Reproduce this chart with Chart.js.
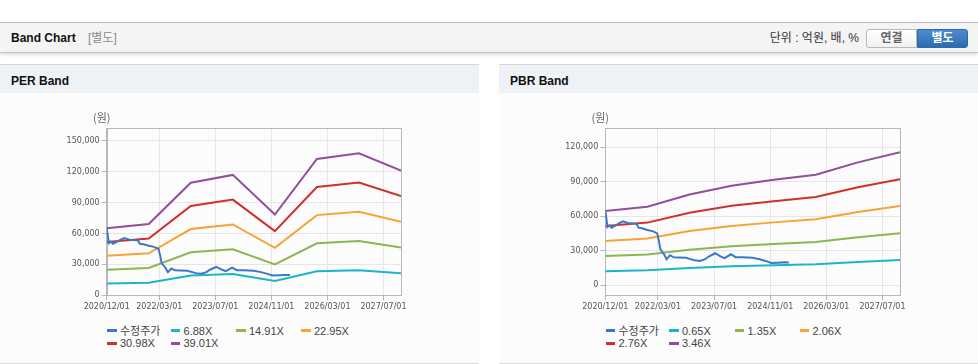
<!DOCTYPE html>
<html><head><meta charset="utf-8">
<script src="https://cdn.jsdelivr.net/npm/chart.js@4.4.1/dist/chart.umd.min.js"></script>
<style>
html,body{margin:0;padding:0;}
body{width:978px;height:364px;background:#fff;position:relative;overflow:hidden;font-family:"Liberation Sans",Arial,"Noto Sans CJK KR",sans-serif;}
.topbar{position:absolute;left:0;top:22px;width:978px;height:29px;background:#f4f4f4;border-top:1px solid #bdbdbd;border-bottom:1px solid #c4c4c4;box-shadow:0 2px 3px rgba(0,0,0,0.13);box-sizing:content-box;}
.ttl{position:absolute;left:11px;top:8px;font-weight:bold;font-size:12px;color:#111;line-height:14px;}
.sub{position:absolute;left:88px;top:8px;font-size:12px;color:#8a8a8a;line-height:14px;}
.unit{position:absolute;right:119px;top:8px;font-size:12px;color:#333;line-height:14px;white-space:nowrap;}
.btn{position:absolute;top:6px;height:19px;width:51px;box-sizing:border-box;font-weight:bold;font-size:12px;line-height:17px;text-align:center;}
.b1{left:866px;border:1px solid #b8b8b8;border-radius:3px 0 0 3px;background:linear-gradient(#ffffff,#f1f1f1);color:#666;}
.b2{left:917px;border:1px solid #2f69a6;border-radius:0 3px 3px 0;background:linear-gradient(#4b8dd2,#2d6bb1);color:#fff;}
.panel{position:absolute;top:64px;width:479px;height:298px;background:#fcfcfc;border-top:1px solid #d6d6d6;border-bottom:1px solid #dadada;}
.phead{position:absolute;left:0;top:0;right:0;height:28px;background:#eef2f7;}
.phead span{position:absolute;left:11px;top:9px;font-weight:bold;font-size:12px;color:#111;line-height:14px;}
canvas{position:absolute;}
.legend{position:absolute;display:grid;grid-template-columns:63.5px 65.5px 65px 65px;font-family:"Liberation Sans",Arial,"Noto Sans CJK KR",sans-serif;font-size:11px;color:#444;line-height:12.5px;}
.li{display:flex;align-items:center;white-space:nowrap;}
.mk{display:inline-block;width:9.5px;height:3px;margin-right:3.5px;}
</style></head>
<body>
<div class="topbar">
  <div class="ttl">Band Chart</div>
  <div class="sub">[별도]</div>
  <div class="unit">단위 : 억원, 배, %</div>
  <div class="btn b1">연결</div>
  <div class="btn b2">별도</div>
</div>
<div class="panel" style="left:0;"><div class="phead"><span>PER Band</span></div></div>
<div class="panel" style="left:499px;"><div class="phead"><span>PBR Band</span></div></div>
<canvas id="per" width="380" height="220" style="left:40px;top:100px;"></canvas>
<canvas id="pbr" width="380" height="220" style="left:540px;top:100px;"></canvas>
<div class="legend" id="perLegend" style="left:107px;top:324.5px;"></div>
<div class="legend" id="pbrLegend" style="left:605.5px;top:324.5px;"></div>
<script>
// ---------- data ----------
const xTickLabels = ['2020/12/01','2022/03/01','2023/07/01','2024/11/01','2026/03/01','2027/07/01'];
const xStart = '2020/12/01';
const xEnd = '2027/12/01';
const bandDates = ['2020/12/01','2021/12/01','2022/12/01','2023/12/01','2024/12/01','2025/12/01','2026/12/01','2027/12/01'];

const priceLabel = '수정주가';
const priceDates = ['2020/12/01','2020/12/20','2021/01/07','2021/01/25','2021/03/01','2021/04/01','2021/05/01','2021/06/15','2021/08/15','2021/09/01','2021/09/15','2021/10/15','2021/12/01','2022/01/15','2022/02/25','2022/03/10','2022/03/22','2022/04/22','2022/05/15','2022/06/15','2022/07/15','2022/09/01','2022/11/01','2023/01/15','2023/03/01','2023/04/15','2023/05/15','2023/07/10','2023/08/25','2023/10/01','2023/11/25','2024/01/05','2024/03/01','2024/06/01','2024/08/01','2024/09/20','2024/11/10','2025/01/15','2025/03/01','2025/04/10'];
const priceValues = [65000,50500,52000,50000,52000,54000,55500,54000,53500,53000,50000,49500,48000,47000,45000,38000,31000,27000,22500,26000,24200,24000,23700,21500,21000,22500,24800,27700,25000,23500,26800,24300,24200,23700,22500,21000,19200,19500,19800,19600];

const perNames = ['6.88X','14.91X','22.95X','30.98X','39.01X'];
const per1 = [11500,12200,19300,20600,13800,23300,24300,21400];
const per2 = [24900,26500,41700,44600,30000,50500,52600,46300];
const per3 = [38300,40700,64300,68700,46100,77800,81000,71300];
const per4 = [51700,55000,86700,92800,62300,105000,109400,96200];
const per5 = [65100,69200,109200,116800,78400,132200,137700,121100];

const pbrNames = ['0.65X','1.35X','2.06X','2.76X','3.46X'];
const pbr1 = [12100,12800,14800,16300,17200,18100,20100,21700];
const pbr2 = [25200,26600,30800,33800,35800,37500,41700,45100];
const pbr3 = [38400,40600,47000,51500,54600,57300,63700,68900];
const pbr4 = [51400,54400,62900,69000,73100,76700,85300,92300];
const pbr5 = [64500,68200,78900,86500,91700,96200,106900,115700];

const perYTicks = [0,30000,60000,90000,120000,150000];
const pbrYTicks = [0,30000,60000,90000,120000];
const yUnit = '(원)';

// ---------- styles ----------
const priceColor = '#3b78c8';
const bandColors = ['#1eb4c8','#8db552','#f5a536','#cf302c','#8f4f9b'];

function toMonth(d){
  const p = d.split('/').map(Number);
  return (p[0]-2020)*12 + (p[1]-12) + (p[2]-1)/30;
}

const framePlugin = {
  id:'frame',
  beforeDatasetsDraw(chart){
    const {ctx, chartArea:a} = chart;
    ctx.save();
    ctx.strokeStyle = '#b8b8b8';
    ctx.lineWidth = 1;
    ctx.strokeRect(Math.round(a.left)+0.5, Math.round(a.top)+0.5, Math.round(a.right)-Math.round(a.left), Math.round(a.bottom)-Math.round(a.top));
    ctx.restore();
  },
  afterDraw(chart){
    const {ctx, chartArea:a} = chart;
    ctx.save();
    ctx.fillStyle = '#666';
    ctx.font = '11px "Noto Sans CJK KR", sans-serif';
    ctx.textAlign = 'center';
    ctx.textBaseline = 'middle';
    ctx.fillText(yUnit, a.left-5, a.top-10);
    ctx.restore();
  }
};

function makeChart(id, legendId, names, bands, yTicks, ymin, ymax, yWidth, xHeight, padTop, padRight){
  const datasets = [{
    label: priceLabel,
    data: priceDates.map((d,i)=>({x:toMonth(d), y:priceValues[i]})),
    borderColor: priceColor, backgroundColor: priceColor
  }];
  names.forEach((n,k)=>{
    datasets.push({
      label: n,
      data: bandDates.map((d,i)=>({x:toMonth(d), y:bands[k][i]})),
      borderColor: bandColors[k], backgroundColor: bandColors[k]
    });
  });
  const tickFont = {family:'"DejaVu Sans", sans-serif', size:8};
  const chart = new Chart(document.getElementById(id), {
    type:'line',
    data:{datasets},
    plugins:[framePlugin],
    options:{
      responsive:false, animation:false, devicePixelRatio:1,
      layout:{padding:{top:padTop, right:padRight, left:0, bottom:0}},
      plugins:{legend:{display:false}, tooltip:{enabled:false}},
      elements:{point:{radius:0}, line:{borderWidth:2, tension:0}},
      scales:{
        x:{
          type:'linear', min:toMonth(xStart), max:toMonth(xEnd),
          afterBuildTicks:s=>{ s.ticks = xTickLabels.map(l=>({value:toMonth(l)})); },
          afterFit:s=>{ s.height = xHeight; },
          ticks:{autoSkip:false, maxRotation:0, minRotation:0, padding:2, color:'#555', font:tickFont,
                 callback:(v,i)=>xTickLabels[i]},
          grid:{color:'#e6e6e6', tickColor:'#b8b8b8', tickLength:5},
          border:{color:'#b8b8b8'}
        },
        y:{
          type:'linear', min:ymin, max:ymax,
          afterBuildTicks:s=>{ s.ticks = yTicks.map(v=>({value:v})); },
          afterFit:s=>{ s.width = yWidth; },
          ticks:{padding:2, color:'#555', font:tickFont, callback:v=>v.toLocaleString('en-US')},
          grid:{color:'#e6e6e6', tickColor:'#b8b8b8', tickLength:5},
          border:{color:'#b8b8b8'}
        }
      }
    }
  });
  const lg = document.getElementById(legendId);
  chart.data.datasets.forEach(ds=>{
    const it = document.createElement('div'); it.className='li';
    const mk = document.createElement('span'); mk.className='mk'; mk.style.background = ds.borderColor;
    const tx = document.createElement('span'); tx.textContent = ds.label;
    it.appendChild(mk); it.appendChild(tx); lg.appendChild(it);
  });
  return chart;
}

makeChart('per','perLegend', perNames, [per1,per2,per3,per4,per5], perYTicks, 0, 162000, 66.7, 24.7, 28.3, 19);
makeChart('pbr','pbrLegend', pbrNames, [pbr1,pbr2,pbr3,pbr4,pbr5], pbrYTicks, -8700, 136600, 65.3, 25, 28.3, 20);
</script>
</body></html>
